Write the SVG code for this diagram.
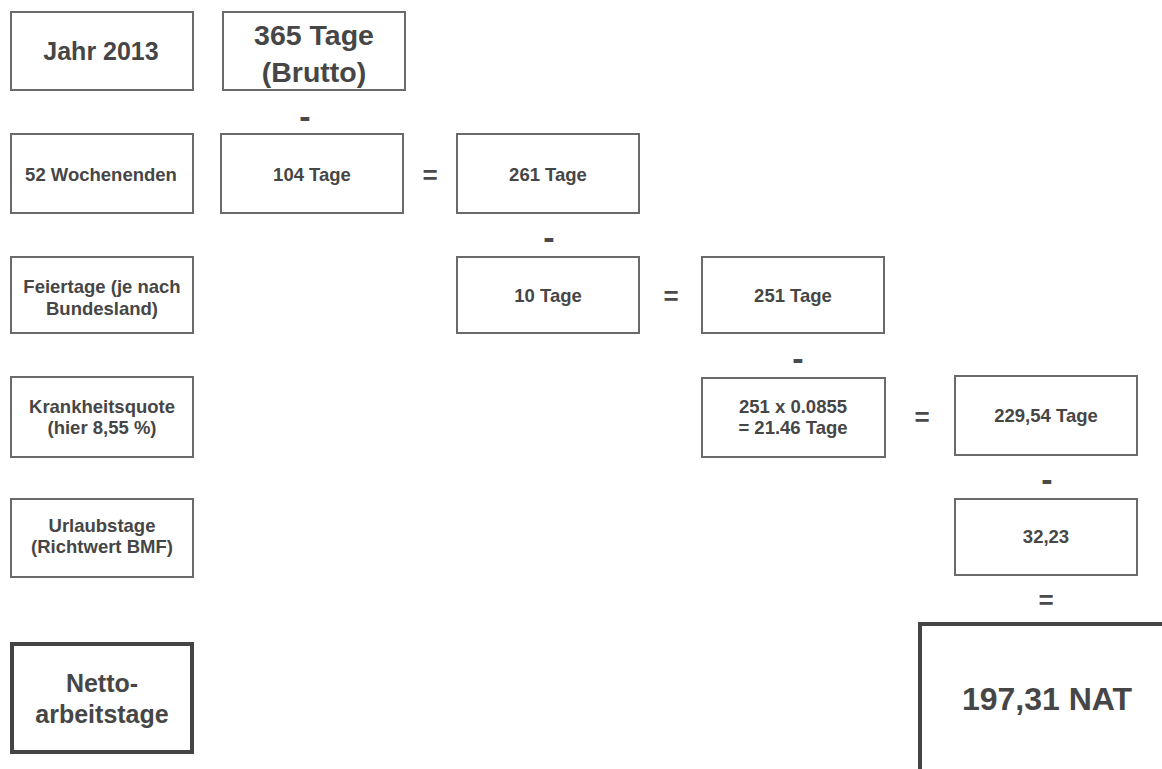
<svg xmlns="http://www.w3.org/2000/svg" width="1162" height="769" viewBox="0 0 1162 769">
<style>
text{font-family:"Liberation Sans",Arial,sans-serif;font-weight:bold;fill:#464646;text-anchor:middle}
.box{fill:#fff;stroke:#6a6a6a;stroke-width:2}
.thick{fill:#fff;stroke:#444;stroke-width:4}
.s{font-size:18.5px}
.m{font-size:25px}
.l{font-size:28.5px}
.mi{font-size:34px;fill:#4a4a4a}
.eq{font-size:26px;fill:#4a4a4a}
</style>
<rect width="1162" height="769" fill="#fff"/>
<g id="jahr"><rect class="box" x="11" y="12" width="182" height="78"/><text class="m" x="101" y="60">Jahr 2013</text></g>
<g id="brutto"><rect class="box" x="223" y="12" width="182" height="78"/><text class="l" x="314" y="45">365 Tage</text><text class="l" x="314" y="82">(Brutto)</text></g>
<g id="wochenenden"><rect class="box" x="11" y="134" width="182" height="79"/><text class="s" x="101" y="181">52 Wochenenden</text></g>
<g id="t104"><rect class="box" x="221" y="134" width="182" height="79"/><text class="s" x="312" y="181">104 Tage</text></g>
<g id="t261"><rect class="box" x="457" y="134" width="182" height="79"/><text class="s" x="548" y="181">261 Tage</text></g>
<g id="feiertage"><rect class="box" x="11" y="257" width="182" height="76"/><text class="s" x="102" y="293">Feiertage (je nach</text><text class="s" x="102" y="315">Bundesland)</text></g>
<g id="t10"><rect class="box" x="457" y="257" width="182" height="76"/><text class="s" x="548" y="302">10 Tage</text></g>
<g id="t251"><rect class="box" x="702" y="257" width="182" height="76"/><text class="s" x="793" y="302">251 Tage</text></g>
<g id="krankheit"><rect class="box" x="11" y="377" width="182" height="80"/><text class="s" x="102" y="413">Krankheitsquote</text><text class="s" x="102" y="434">(hier 8,55 %)</text></g>
<g id="kquote"><rect class="box" x="702" y="378" width="183" height="79"/><text class="s" x="793" y="413">251 x 0.0855</text><text class="s" x="793" y="434">= 21.46 Tage</text></g>
<g id="t229"><rect class="box" x="955" y="376" width="182" height="79"/><text class="s" x="1046" y="422">229,54 Tage</text></g>
<g id="urlaub"><rect class="box" x="11" y="499" width="182" height="78"/><text class="s" x="102" y="532">Urlaubstage</text><text class="s" x="102" y="553">(Richtwert BMF)</text></g>
<g id="t3223"><rect class="box" x="955" y="499" width="182" height="76"/><text class="s" x="1046" y="543">32,23</text></g>
<g id="netto"><rect class="thick" x="12" y="644" width="180" height="108"/><text class="m" x="102" y="692">Netto-</text><text class="m" x="102" y="723">arbeitstage</text></g>
<g id="nat"><rect class="thick" x="920" y="624" width="300" height="200"/><text style="font-size:32px" x="1047" y="710">197,31 NAT</text></g>
<g id="connectors">
<text class="mi" x="305" y="128">-</text>
<text class="eq" x="430" y="184">=</text>
<text class="mi" x="549" y="249">-</text>
<text class="eq" x="671" y="305">=</text>
<text class="mi" x="798" y="370">-</text>
<text class="eq" x="922" y="426">=</text>
<text class="mi" x="1047" y="491">-</text>
<text class="eq" x="1046" y="609">=</text>
</g>
</svg>
